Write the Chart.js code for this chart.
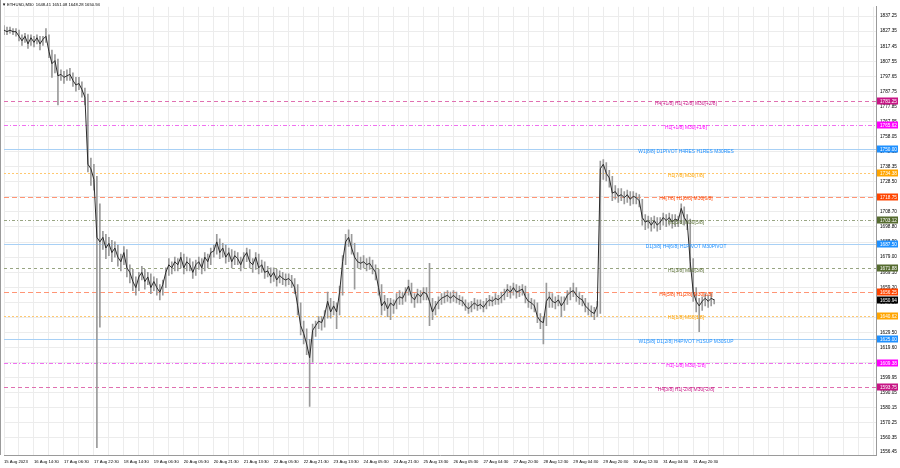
<!DOCTYPE html>
<html>
<head>
<meta charset="utf-8">
<script src="https://cdn.jsdelivr.net/npm/chart.js@4.4.0/dist/chart.umd.min.js"></script>
<style>
  html, body { margin: 0; padding: 0; background: #fff; }
</style>
</head>
<body>
<canvas id="ethChart" width="900" height="468"></canvas>
<script>
// ETHUSD M30, one point every 6 bars
var closes = [1828,1827,1828,1827,1827,1824,1821,1824,1819,1823,1820,1823,1819,1822,1824,1814,1806,1808,1798,1799,
  1797,1798,1799,1795,1792,1793,1789,1784,1740,1737,1730,1692,1689,1692,1685,1688,1682,1685,1679,1676,
  1682,1672,1669,1663,1659,1666,1669,1663,1666,1659,1663,1659,1656,1661,1669,1674,1672,1676,1674,1679,
  1672,1676,1674,1669,1674,1676,1672,1679,1676,1682,1683,1689,1682,1685,1679,1682,1676,1680,1678,1674,
  1679,1682,1676,1674,1679,1672,1674,1669,1670,1666,1669,1664,1667,1665,1664,1665,1663,1659,1647,1634,
  1629,1622,1613,1631,1634,1637,1636,1641,1650,1643,1647,1643,1656,1676,1689,1692,1685,1679,1676,1675,
  1676,1674,1675,1672,1669,1659,1647,1650,1645,1649,1647,1651,1653,1652,1656,1660,1653,1651,1655,1653,
  1656,1655,1650,1643,1647,1650,1652,1653,1654,1652,1654,1652,1651,1650,1647,1645,1647,1649,1647,1648,
  1646,1649,1651,1650,1652,1651,1653,1655,1658,1656,1659,1656,1657,1658,1653,1650,1649,1647,1640,1637,
  1636,1650,1653,1650,1649,1651,1647,1650,1654,1656,1657,1654,1652,1651,1647,1645,1643,1642,1647,1737,
  1740,1734,1731,1721,1722,1719,1720,1718,1720,1717,1719,1718,1716,1705,1702,1703,1700,1703,1700,1702,
  1705,1703,1705,1702,1704,1703,1711,1705,1702,1676,1656,1650,1647,1650,1652,1650,1652,1650.94];
var lows = [1825,1825,1826,1825,1824,1821,1818,1820,1816,1818,1817,1819,1815,1818,1820,1810,1797,1800,1779,1795,
  1793,1795,1795,1791,1788,1789,1784,1779,1735,1726,1723,1554,1633,1684,1678,1680,1676,1679,1673,1670,
  1674,1666,1662,1657,1654,1657,1664,1658,1661,1655,1657,1654,1651,1654,1659,1667,1668,1670,1670,1672,
  1668,1670,1670,1665,1667,1671,1668,1670,1672,1674,1679,1681,1678,1679,1675,1676,1672,1674,1674,1670,
  1672,1676,1672,1669,1671,1668,1669,1665,1666,1662,1663,1660,1662,1661,1660,1661,1659,1655,1641,1628,
  1622,1615,1581,1610,1627,1632,1631,1633,1639,1639,1641,1632,1641,1654,1674,1686,1681,1658,1672,1671,
  1672,1670,1671,1668,1664,1654,1641,1644,1640,1638,1642,1645,1648,1648,1650,1654,1649,1646,1649,1649,
  1651,1651,1634,1638,1641,1645,1648,1649,1650,1649,1650,1649,1648,1647,1644,1642,1643,1645,1644,1645,
  1643,1645,1647,1647,1648,1648,1649,1651,1653,1652,1654,1652,1653,1654,1649,1646,1645,1643,1636,1632,
  1622,1634,1646,1646,1645,1647,1640,1644,1648,1651,1653,1650,1648,1647,1643,1641,1640,1638,1640,1642,
  1730,1729,1725,1716,1717,1715,1716,1714,1715,1713,1714,1714,1712,1700,1697,1698,1696,1698,1696,1697,
  1700,1699,1700,1698,1699,1699,1701,1700,1697,1670,1650,1643,1630,1644,1647,1646,1647,1648.28];
var highs = [1831,1830,1830,1829,1829,1828,1825,1826,1825,1825,1824,1825,1824,1824,1829,1825,1815,1812,1809,1802,
  1801,1802,1803,1800,1797,1797,1794,1790,1786,1744,1740,1732,1714,1696,1694,1692,1690,1689,1687,1681,
  1686,1684,1674,1671,1666,1669,1673,1671,1669,1668,1666,1665,1661,1664,1672,1678,1676,1679,1678,1682,
  1681,1679,1678,1676,1677,1679,1678,1682,1681,1685,1687,1694,1691,1688,1687,1685,1684,1683,1682,1679,
  1682,1685,1684,1678,1682,1681,1677,1676,1673,1672,1672,1671,1670,1669,1668,1668,1667,1665,1661,1649,
  1637,1632,1625,1635,1637,1640,1640,1644,1656,1652,1650,1649,1660,1680,1694,1697,1694,1688,1682,1679,
  1680,1678,1679,1677,1674,1671,1661,1654,1652,1652,1651,1655,1657,1656,1659,1664,1662,1655,1658,1657,
  1659,1659,1675,1652,1650,1653,1655,1656,1657,1656,1657,1656,1654,1653,1651,1649,1650,1652,1651,1651,
  1650,1652,1654,1653,1655,1654,1656,1658,1661,1660,1662,1661,1660,1661,1660,1655,1652,1651,1649,1642,
  1640,1662,1656,1655,1653,1654,1653,1653,1657,1659,1662,1659,1656,1654,1652,1649,1647,1646,1650,1742,
  1743,1741,1736,1732,1726,1724,1724,1722,1723,1722,1722,1721,1720,1717,1707,1706,1705,1706,1705,1705,
  1708,1707,1708,1707,1707,1706,1714,1712,1707,1704,1678,1659,1652,1653,1655,1654,1655,1651.08];

// time axis labels, one every 10 points
var timeLabels = ['15 Aug 2023','16 Aug 14:30','17 Aug 06:30','17 Aug 22:30','18 Aug 14:30','19 Aug 06:30',
  '20 Aug 05:30','20 Aug 21:30','21 Aug 13:30','22 Aug 05:30','22 Aug 21:30','23 Aug 13:30','24 Aug 05:30',
  '24 Aug 21:30','25 Aug 13:30','26 Aug 05:30','27 Aug 04:30','27 Aug 20:30','28 Aug 12:30','29 Aug 04:30',
  '29 Aug 20:30','30 Aug 12:30','31 Aug 04:30','31 Aug 20:30'];

// price scale labels (last one is the bottom edge label)
var priceTicks = ['1837.25','1827.35','1817.45','1807.55','1797.65','1787.75','1777.85','1767.95','1758.05',
  '1748.15','1738.35','1728.50','1718.60','1708.70','1698.80','1688.90','1679.00','1669.10','1659.20',
  '1649.30','1639.40','1629.50','1619.60','1609.70','1599.95','1590.05','1580.15','1570.25','1560.35','1556.45'];

// Murrey math levels
var levelValues = [1781.25,1765.62,1750.00,1734.38,1718.75,1703.12,1687.50,1671.88,1656.25,1640.62,1625.00,1609.38,1593.75];
var levelNames = ['H4[+1/8] H1[+2/8] M30[+2/8]','H1[+1/8] M30[+1/8]','W1[8/8] D1PIVOT H4RES H1RES M30RES',
  'H1[7/8] M30[7/8]','H4[7/8] H1[6/8] M30[6/8]','H1[5/8] M30[5/8]','D1[3/8] H4[6/8] H1PIVOT M30PIVOT',
  'H1[3/8] M30[3/8]','H4[5/8] H1[2/8] M30[2/8]','H1[1/8] M30[1/8]','W1[5/8] D1[2/8] H4PIVOT H1SUP M30SUP',
  'H1[-1/8] M30[-1/8]','H4[3/8] H1[-2/8] M30[-2/8]'];
var levelColors = ['#c71585','#ff00ff','#1e90ff','#ffa500','#ff4500','#556b2f','#1e90ff','#556b2f','#ff4500','#ffa500','#1e90ff','#ff00ff','#c71585'];
var lineColors = ['#e070b0','#f070f0','#a8d0f5','#ffc870','#ff9575','#98a582','#a8d0f5','#98a582','#ff9575','#ffc870','#a8d0f5','#f070f0','#e070b0'];
var levelDash = [[4,3],[4,2,1,2],[],[2,2],[5,3],[3,2,1,2],[],[3,3],[5,3],[2,2],[],[4,2,1,2],[4,3]];

var header = 'ETHUSD,M30  1648.41 1651.08 1648.28 1650.94';
var lastPrice = 1650.94;

var nPoints = 292;
var idx = [];
for (var i = 0; i < nPoints; i++) idx.push(i);

var FONT = "'Liberation Sans', Arial, sans-serif";

var levelsPlugin = {
  id: 'levels',
  beforeDatasetsDraw: function(chart) {
    var ctx = chart.ctx, y = chart.scales.y, a = chart.chartArea;
    ctx.save();
    ctx.lineWidth = 1;
    levelValues.forEach(function(v, k) {
      var py = Math.round(y.getPixelForValue(v)) + 0.5;
      ctx.strokeStyle = lineColors[k];
      ctx.setLineDash(levelDash[k]);
      ctx.beginPath();
      ctx.moveTo(a.left, py);
      ctx.lineTo(a.right, py);
      ctx.stroke();
    });
    ctx.restore();
  },
  afterDraw: function(chart) {
    var ctx = chart.ctx, y = chart.scales.y, a = chart.chartArea;
    ctx.save();
    ctx.font = '4.9px ' + FONT;
    ctx.textAlign = 'center';
    ctx.textBaseline = 'top';
    levelValues.forEach(function(v, k) {
      var py = y.getPixelForValue(v);
      ctx.fillStyle = levelColors[k];
      ctx.fillText(levelNames[k], 686, py);
    });
    // price boxes on the axis
    ctx.font = '4.7px ' + FONT;
    ctx.textAlign = 'left';
    ctx.textBaseline = 'middle';
    function box(v, col) {
      var py = Math.round(y.getPixelForValue(v));
      ctx.fillStyle = col;
      ctx.fillRect(a.right + 1, py - 3.5, 21, 7);
      ctx.fillStyle = '#fff';
      ctx.fillText(v.toFixed(2), a.right + 4, py + 0.5);
    }
    levelValues.forEach(function(v, k) { box(v, levelColors[k]); });
    box(lastPrice, '#000');
    // header
    ctx.fillStyle = '#000';
    ctx.font = '4.2px ' + FONT;
    ctx.fillText('\u25BC', 2, 5);
    ctx.fillText(header, 7, 5);
    // left frame
    ctx.strokeStyle = '#9a9a9a';
    ctx.beginPath();
    ctx.moveTo(0.5, 0);
    ctx.lineTo(0.5, a.bottom);
    ctx.stroke();
    ctx.restore();
  }
};

new Chart(document.getElementById('ethChart').getContext('2d'), {
  data: {
    labels: idx,
    datasets: [
      {
        type: 'bar',
        data: lows.map(function(l, i) { return [l, highs[i]]; }),
        backgroundColor: '#9a9a9a',
        barThickness: 1,
        order: 2
      },
      {
        type: 'line',
        data: closes,
        borderColor: '#2b2b2b',
        borderWidth: 1,
        pointRadius: 0,
        tension: 0,
        order: 1
      }
    ]
  },
  options: {
    responsive: false,
    animation: false,
    layout: { autoPadding: false, padding: { left: 1, top: 0, right: 0, bottom: 0 } },
    plugins: { legend: { display: false }, tooltip: { enabled: false } },
    scales: {
      x: {
        type: 'category',
        offset: false,
        grid: { color: '#ececec', drawTicks: false, offset: false },
        border: { color: '#9a9a9a' },
        ticks: {
          autoSkip: false, maxRotation: 0, align: 'start', padding: 4,
          color: '#000', font: { size: 4.2, family: FONT },
          callback: function(v, i) {
            if (i % 5 !== 0) return null;
            if (i % 10 !== 0) return '';
            return timeLabels[i / 10] || '';
          }
        },
        afterFit: function(s) { s.height = 13; }
      },
      y: {
        position: 'right',
        min: 1549.12,
        max: 1843.32,
        grid: {
          drawTicks: false,
          color: function(c) { return c.index === priceTicks.length - 1 ? 'rgba(0,0,0,0)' : '#ececec'; }
        },
        border: { color: '#9a9a9a' },
        afterBuildTicks: function(s) {
          var last = priceTicks.length - 1;
          s.ticks = priceTicks.map(function(t, k) {
            return { value: k === last ? s.min + 1.9 : parseFloat(t) };
          });
        },
        ticks: {
          autoSkip: false, padding: 4, color: '#000',
          font: { size: 4.7, family: FONT },
          callback: function(v, k) { return priceTicks[k]; }
        },
        afterFit: function(s) { s.width = 24; }
      }
    }
  },
  plugins: [levelsPlugin]
});
</script>
</body>
</html>
